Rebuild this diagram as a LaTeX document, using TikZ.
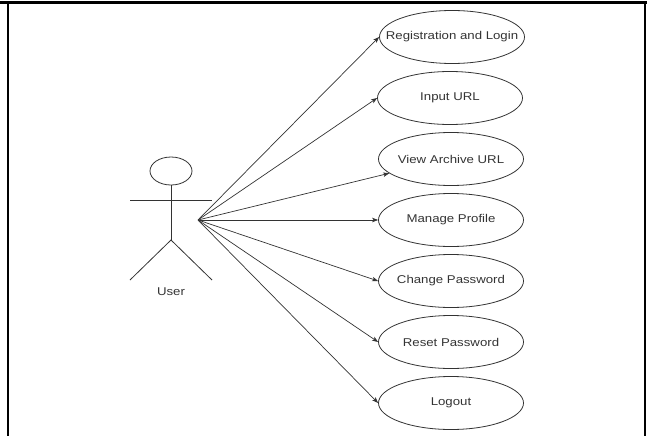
\documentclass[tikz,border=0pt]{standalone}
\usepackage{fontspec}
\setmainfont{Liberation Sans}[FakeStretch=1.17]
\usetikzlibrary{shapes.geometric,arrows.meta}
\definecolor{linegray}{HTML}{333333}
% a use-case label that does not widen its ellipse
\newcommand\uclabel[1]{\makebox[0pt][c]{#1}}
\tikzset{
  usecase/.style={ellipse, draw=linegray, line width=0.8pt, minimum width=145pt,
    minimum height=53pt, inner sep=0pt, font=\fontsize{11.3}{13}\selectfont, text=linegray},
  assoc/.style={draw=linegray, line width=0.7pt,
    -{Stealth[length=6pt,width=4.5pt,inset=1.5pt]}},
  actorline/.style={draw=linegray, line width=0.8pt},
  frameline/.style={draw=black, line width=2.2pt}
}
\begin{document}
\begin{tikzpicture}[x=1pt,y=-1pt]
  \useasboundingbox (0,0) rectangle (647,436);
  % outer frame (top, left and right rules)
  \draw[frameline] (0,2.5) -- (647,2.5);
  \draw[frameline] (8,2.5) -- (8,436);
  \draw[frameline] (645,2.5) -- (645,436);

  % actor
  \node[ellipse, actorline, minimum width=42pt, minimum height=28pt, inner sep=0pt] (head) at (171,171) {};
  \coordinate (hip) at (171,240);
  \coordinate (larm) at (130,200);
  \coordinate (rarm) at (212,200);
  \coordinate (lfoot) at (130,280);
  \coordinate (rfoot) at (212,280);
  \draw[actorline] (head.south) -- (hip);
  \draw[actorline] (larm) -- (rarm);
  \draw[actorline] (lfoot) -- (hip) -- (rfoot);
  \node[font=\fontsize{11.3}{13}\selectfont, text=linegray] (user) at (171,292) {User};
  \coordinate (src) at (198,220);

  % use cases
  \node[usecase] (reg)  at (452,37)  {\uclabel{Registration and Login}};
  \node[usecase] (url)  at (450,98)  {\uclabel{Input URL}};
  \node[usecase] (view) at (451,159) {\uclabel{View Archive URL}};
  \node[usecase] (prof) at (451,220) {\uclabel{Manage Profile}};
  \node[usecase] (chpw) at (451,281) {\uclabel{Change Password}};
  \node[usecase] (rspw) at (451,342) {\uclabel{Reset Password}};
  \node[usecase] (out)  at (451,403) {\uclabel{Logout}};

  % associations
  \draw[assoc] (src) -- (reg.west);
  \draw[assoc] (src) -- (url.west);
  \draw[assoc] (src) -- (view.193);
  \draw[assoc] (src) -- (prof.west);
  \draw[assoc] (src) -- (chpw.west);
  \draw[assoc] (src) -- (rspw.west);
  \draw[assoc] (src) -- (out.west);
\end{tikzpicture}
\end{document}
